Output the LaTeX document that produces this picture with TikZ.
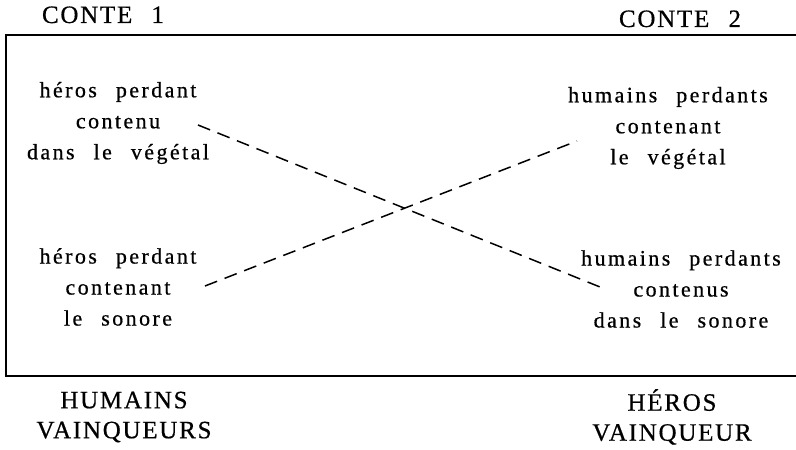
\documentclass[tikz,border=0pt]{standalone}
\usepackage{fontspec}
\setmainfont{Liberation Serif}[LetterSpace=11, WordSpace=2.4, FakeBold=0.6]
\usetikzlibrary{calc}

\begin{document}
\begin{tikzpicture}[x=1pt, y=1pt,
    case/.style={font=\fontsize{22}{31}\selectfont, align=center, inner sep=0pt},
    title/.style={font=\fontsize{25}{30}\selectfont\addfontfeature{LetterSpace=7}, align=center, inner sep=0pt},
    crossline/.style={line width=1.5pt, dash pattern=on 13pt off 8pt}]
      \useasboundingbox (0,0) rectangle (796,450);
      % headers
      \node[title, anchor=base] (conte1) at (103, 427) {CONTE 1};
      \node[title, anchor=base] (conte2) at (680, 423) {CONTE 2};
      % open frame
      \draw[line width=1.8pt] (796,415) -- (6,415) -- (6,74) -- (796,74);
      % the four cases
      \node[case] (tl) at (118, 327) {héros perdant\\contenu\\dans le végétal};
      \node[case] (tr) at (668, 322) {humains perdants\\contenant\\le végétal};
      \node[case] (bl) at (118, 163) {héros perdant\\contenant\\le sonore};
      \node[case] (br) at (681, 161) {humains perdants\\contenus\\dans le sonore};
      \draw[crossline] ($(tl)+(80,-2)$) -- ($(br)+(-76,0)$);
      \draw[crossline] ($(bl)+(87,1)$) -- ($(tr)+(-91,-13)$);
      % winners
      \node[title] (hum) at (124, 33) {HUMAINS\\VAINQUEURS};
      \node[title] (her) at (672, 33) {HÉROS\\VAINQUEUR};
    \end{tikzpicture}
\end{document}
